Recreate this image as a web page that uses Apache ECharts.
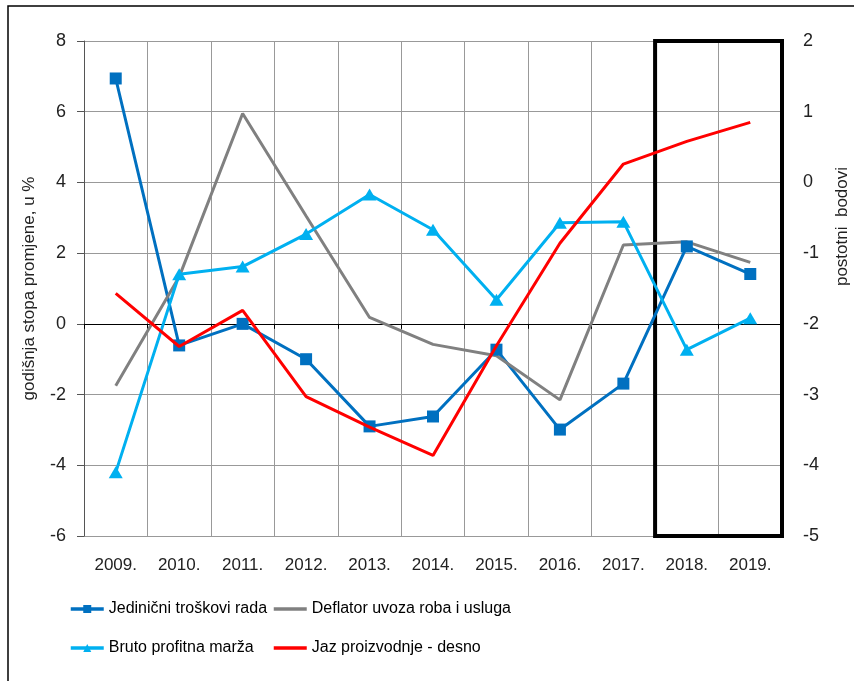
<!DOCTYPE html>
<html>
<head>
<meta charset="utf-8">
<script src="https://cdn.jsdelivr.net/npm/echarts@6/dist/echarts.min.js"></script>
<style>
  html, body { margin: 0; padding: 0; background: #fff; }
  #chart { width: 854px; height: 681px; }
</style>
</head>
<body>
<div id="chart"></div>
<script>
var years = ['2009.', '2010.', '2011.', '2012.', '2013.', '2014.', '2015.', '2016.', '2017.', '2018.', '2019.'];
var jedinicni = [6.94, -0.61, 0.0, -1.0, -2.9, -2.62, -0.73, -2.99, -1.69, 2.19, 1.41];
var deflator = [-1.75, 1.33, 5.95, 3.05, 0.18, -0.58, -0.9, -2.15, 2.23, 2.32, 1.74];
var bruto = [-4.2, 1.4, 1.62, 2.54, 3.66, 2.66, 0.68, 2.86, 2.89, -0.73, 0.16];
var jaz = [-1.57, -2.32, -1.81, -3.03, -3.46, -3.86, -2.31, -0.86, 0.26, 0.58, 0.85];
var leftTicks = [-6, 8, 2];
var rightTicks = [-5, 2, 1];
// years framed by the black box (projection years)
var boxYears = ['2018.', '2019.'];

var font = "'Liberation Sans', Arial, sans-serif";

// box spans whole category bands, so use a hidden band-index axis
var boxFrom = years.indexOf(boxYears[0]);
var boxTo = years.indexOf(boxYears[1]) + 1;

var chart = echarts.init(document.getElementById('chart'));

var noMarker = { opacity: 0 };

var option = {
  animation: false,
  backgroundColor: '#fff',
  textStyle: { fontFamily: font },
  graphic: [{
    type: 'rect',
    shape: { x: 8, y: 6, width: 870, height: 700 },
    style: { fill: 'none', stroke: '#000', lineWidth: 1.5 },
    silent: true
  }],
  grid: { left: 84, right: 72, top: 41, bottom: 145, outerBoundsMode: 'none', containLabel: false },
  legend: [
    {
      left: 69, top: 601, orient: 'vertical', itemGap: 23, padding: 0,
      itemWidth: 33, itemHeight: 10,
      lineStyle: { width: 3.5 },
      textStyle: { fontSize: 16, color: '#000', fontFamily: font },
      data: ['Jedinični troškovi rada', 'Bruto profitna marža']
    },
    {
      left: 272, top: 601, orient: 'vertical', itemGap: 23, padding: 0,
      itemWidth: 33, itemHeight: 10,
      lineStyle: { width: 3.5 },
      textStyle: { fontSize: 16, color: '#000', fontFamily: font },
      data: [
        { name: 'Deflator uvoza roba i usluga', itemStyle: noMarker },
        { name: 'Jaz proizvodnje - desno', itemStyle: noMarker }
      ]
    }
  ],
  xAxis: [
    {
      type: 'category',
      data: years,
      position: 'bottom',
      axisLine: { onZero: true, onZeroAxisIndex: 0, lineStyle: { color: '#000', width: 1 } },
      axisTick: { show: true, length: 5, lineStyle: { color: '#000' } },
      axisLabel: { show: false },
      splitLine: { show: false }
    },
    {
      type: 'category',
      data: years,
      position: 'bottom',
      axisLine: { show: false, onZero: false },
      axisTick: { show: false },
      axisLabel: { show: true, fontSize: 17, color: '#222', margin: 21, fontFamily: font },
      splitLine: { show: true, lineStyle: { color: '#999', width: 1 } }
    },
    {
      type: 'value',
      min: 0,
      max: years.length,
      show: false
    }
  ],
  yAxis: [
    {
      type: 'value',
      min: leftTicks[0], max: leftTicks[1], interval: leftTicks[2],
      name: 'godišnja stopa promjene, u %',
      nameLocation: 'middle',
      nameGap: 46,
      nameTextStyle: { fontSize: 17, color: '#222', fontFamily: font },
      axisLine: { show: true, lineStyle: { color: '#555', width: 1 } },
      axisTick: { show: true, length: 7, lineStyle: { color: '#555' } },
      axisLabel: { fontSize: 18, color: '#222', margin: 18, fontFamily: font },
      splitLine: { show: true, lineStyle: { color: '#999', width: 1 } }
    },
    {
      type: 'value',
      min: rightTicks[0], max: rightTicks[1], interval: rightTicks[2],
      name: 'postotni  bodovi',
      nameLocation: 'middle',
      nameGap: 52,
      nameTextStyle: { fontSize: 17, color: '#222', fontFamily: font, padding: [0, 0, 0, 124] },
      position: 'right',
      axisLine: { show: false },
      axisTick: { show: false },
      axisLabel: { fontSize: 18, color: '#222', margin: 21, fontFamily: font },
      splitLine: { show: false }
    }
  ],
  series: [
    {
      name: 'Jedinični troškovi rada',
      type: 'line',
      data: jedinicni,
      symbol: 'rect',
      symbolSize: 12,
      lineStyle: { color: '#0070C0', width: 3 },
      itemStyle: { color: '#0070C0' },
      z: 3
    },
    {
      name: 'Deflator uvoza roba i usluga',
      type: 'line',
      data: deflator,
      symbol: 'none',
      lineStyle: { color: '#808080', width: 3 },
      itemStyle: { color: '#808080' },
      z: 3
    },
    {
      name: 'Bruto profitna marža',
      type: 'line',
      data: bruto,
      symbol: 'triangle',
      symbolSize: [14, 12],
      lineStyle: { color: '#00B0F0', width: 3 },
      itemStyle: { color: '#00B0F0' },
      z: 3
    },
    {
      name: 'Jaz proizvodnje - desno',
      type: 'line',
      yAxisIndex: 1,
      data: jaz,
      symbol: 'none',
      lineStyle: { color: '#FF0000', width: 3 },
      itemStyle: { color: '#FF0000' },
      z: 4
    },
    {
      name: 'box',
      type: 'line',
      xAxisIndex: 2,
      yAxisIndex: 0,
      data: [],
      markArea: {
        silent: true,
        itemStyle: { color: 'rgba(0,0,0,0)', borderColor: '#000', borderWidth: 4 },
        data: [[{ xAxis: boxFrom }, { xAxis: boxTo }]]
      },
      z: 5
    }
  ]
};

chart.setOption(option);
</script>
</body>
</html>
